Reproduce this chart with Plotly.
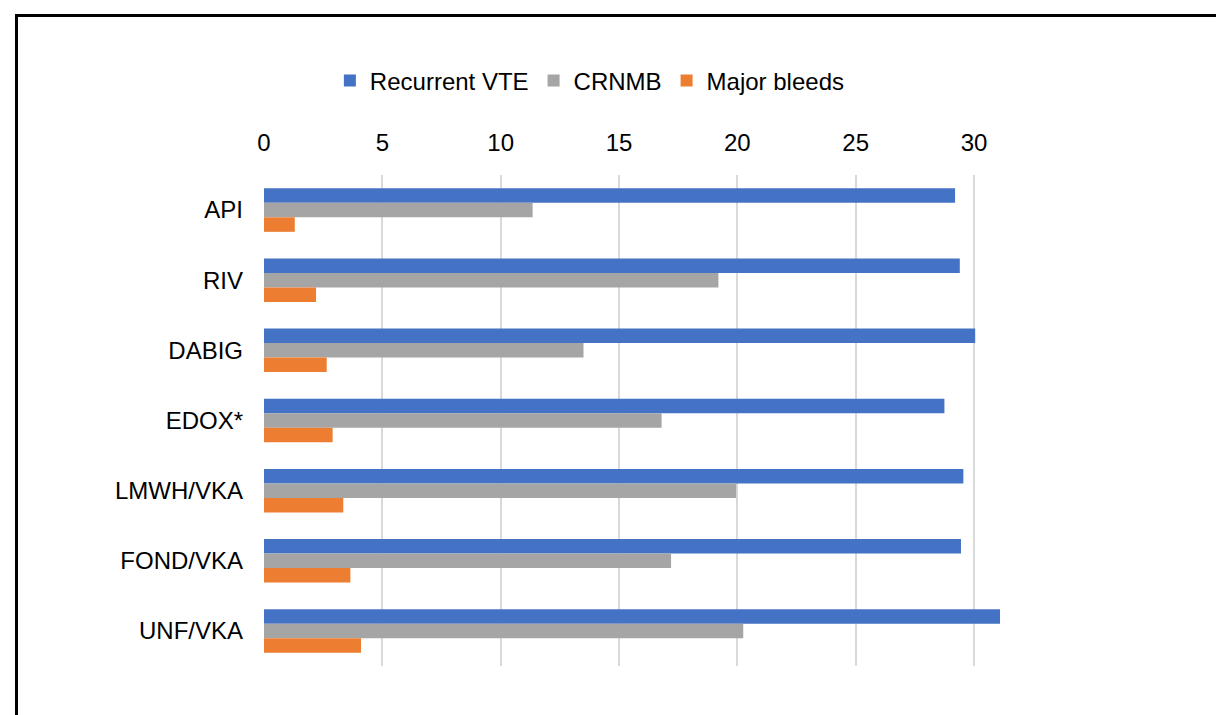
import plotly.graph_objects as go

categories = ["API", "RIV", "DABIG", "EDOX*", "LMWH/VKA", "FOND/VKA", "UNF/VKA"]
recurrent_vte = [29.2, 29.4, 30.05, 28.75, 29.55, 29.45, 31.1]
crnmb = [11.35, 19.2, 13.5, 16.8, 19.95, 17.2, 20.25]
major_bleeds = [1.3, 2.2, 2.65, 2.9, 3.35, 3.65, 4.1]
series_names = ["Recurrent VTE", "CRNMB", "Major bleeds"]
colors = ["#4472C4", "#A5A5A5", "#ED7D31"]
tick_vals = [0, 5, 10, 15, 20, 25, 30]

W, H = 1224, 715
L, R_px, T, B = 256, 1000, 167, 658

fig = go.Figure()
for name, vals, col in zip(series_names, [recurrent_vte, crnmb, major_bleeds], colors):
    fig.add_trace(go.Bar(y=categories, x=vals, name=name, orientation="h",
                         marker=dict(color=col, line=dict(width=0))))

px_per_unit = (966 - 256) / 30
xmax = (R_px - L) / px_per_unit

fig.update_layout(
    width=W, height=H,
    margin=dict(l=L, r=W - R_px, t=T, b=H - B, pad=0),
    paper_bgcolor="white", plot_bgcolor="white",
    barmode="group", bargap=0.38, bargroupgap=0,
    font=dict(family="Liberation Sans, Arial, sans-serif", size=24, color="#000000"),
    legend=dict(orientation="h", x=0.438, xanchor="center", y=1.0 + (T - 73) / (B - T), yanchor="middle",
                font=dict(size=24), itemwidth=30, traceorder="normal"),
    xaxis=dict(side="top", range=[0, xmax], tickvals=tick_vals, showgrid=True,
               gridcolor="#D9D9D9", gridwidth=1.5, zeroline=False, showline=False,
               ticks="", ticklabelstandoff=18),
    yaxis=dict(autorange="reversed", showgrid=False, zeroline=False, showline=False,
               ticks="", ticklabelstandoff=20),
)

pw = R_px - L
ph = B - T
fig.add_shape(type="rect", xref="paper", yref="paper",
              x0=(8.5 - L) / pw, x1=(1219 - L) / pw,
              y0=(B - 740) / ph, y1=(B - 7.5) / ph,
              line=dict(color="black", width=3), fillcolor="rgba(0,0,0,0)", layer="above")

fig.write_html("out.html")
